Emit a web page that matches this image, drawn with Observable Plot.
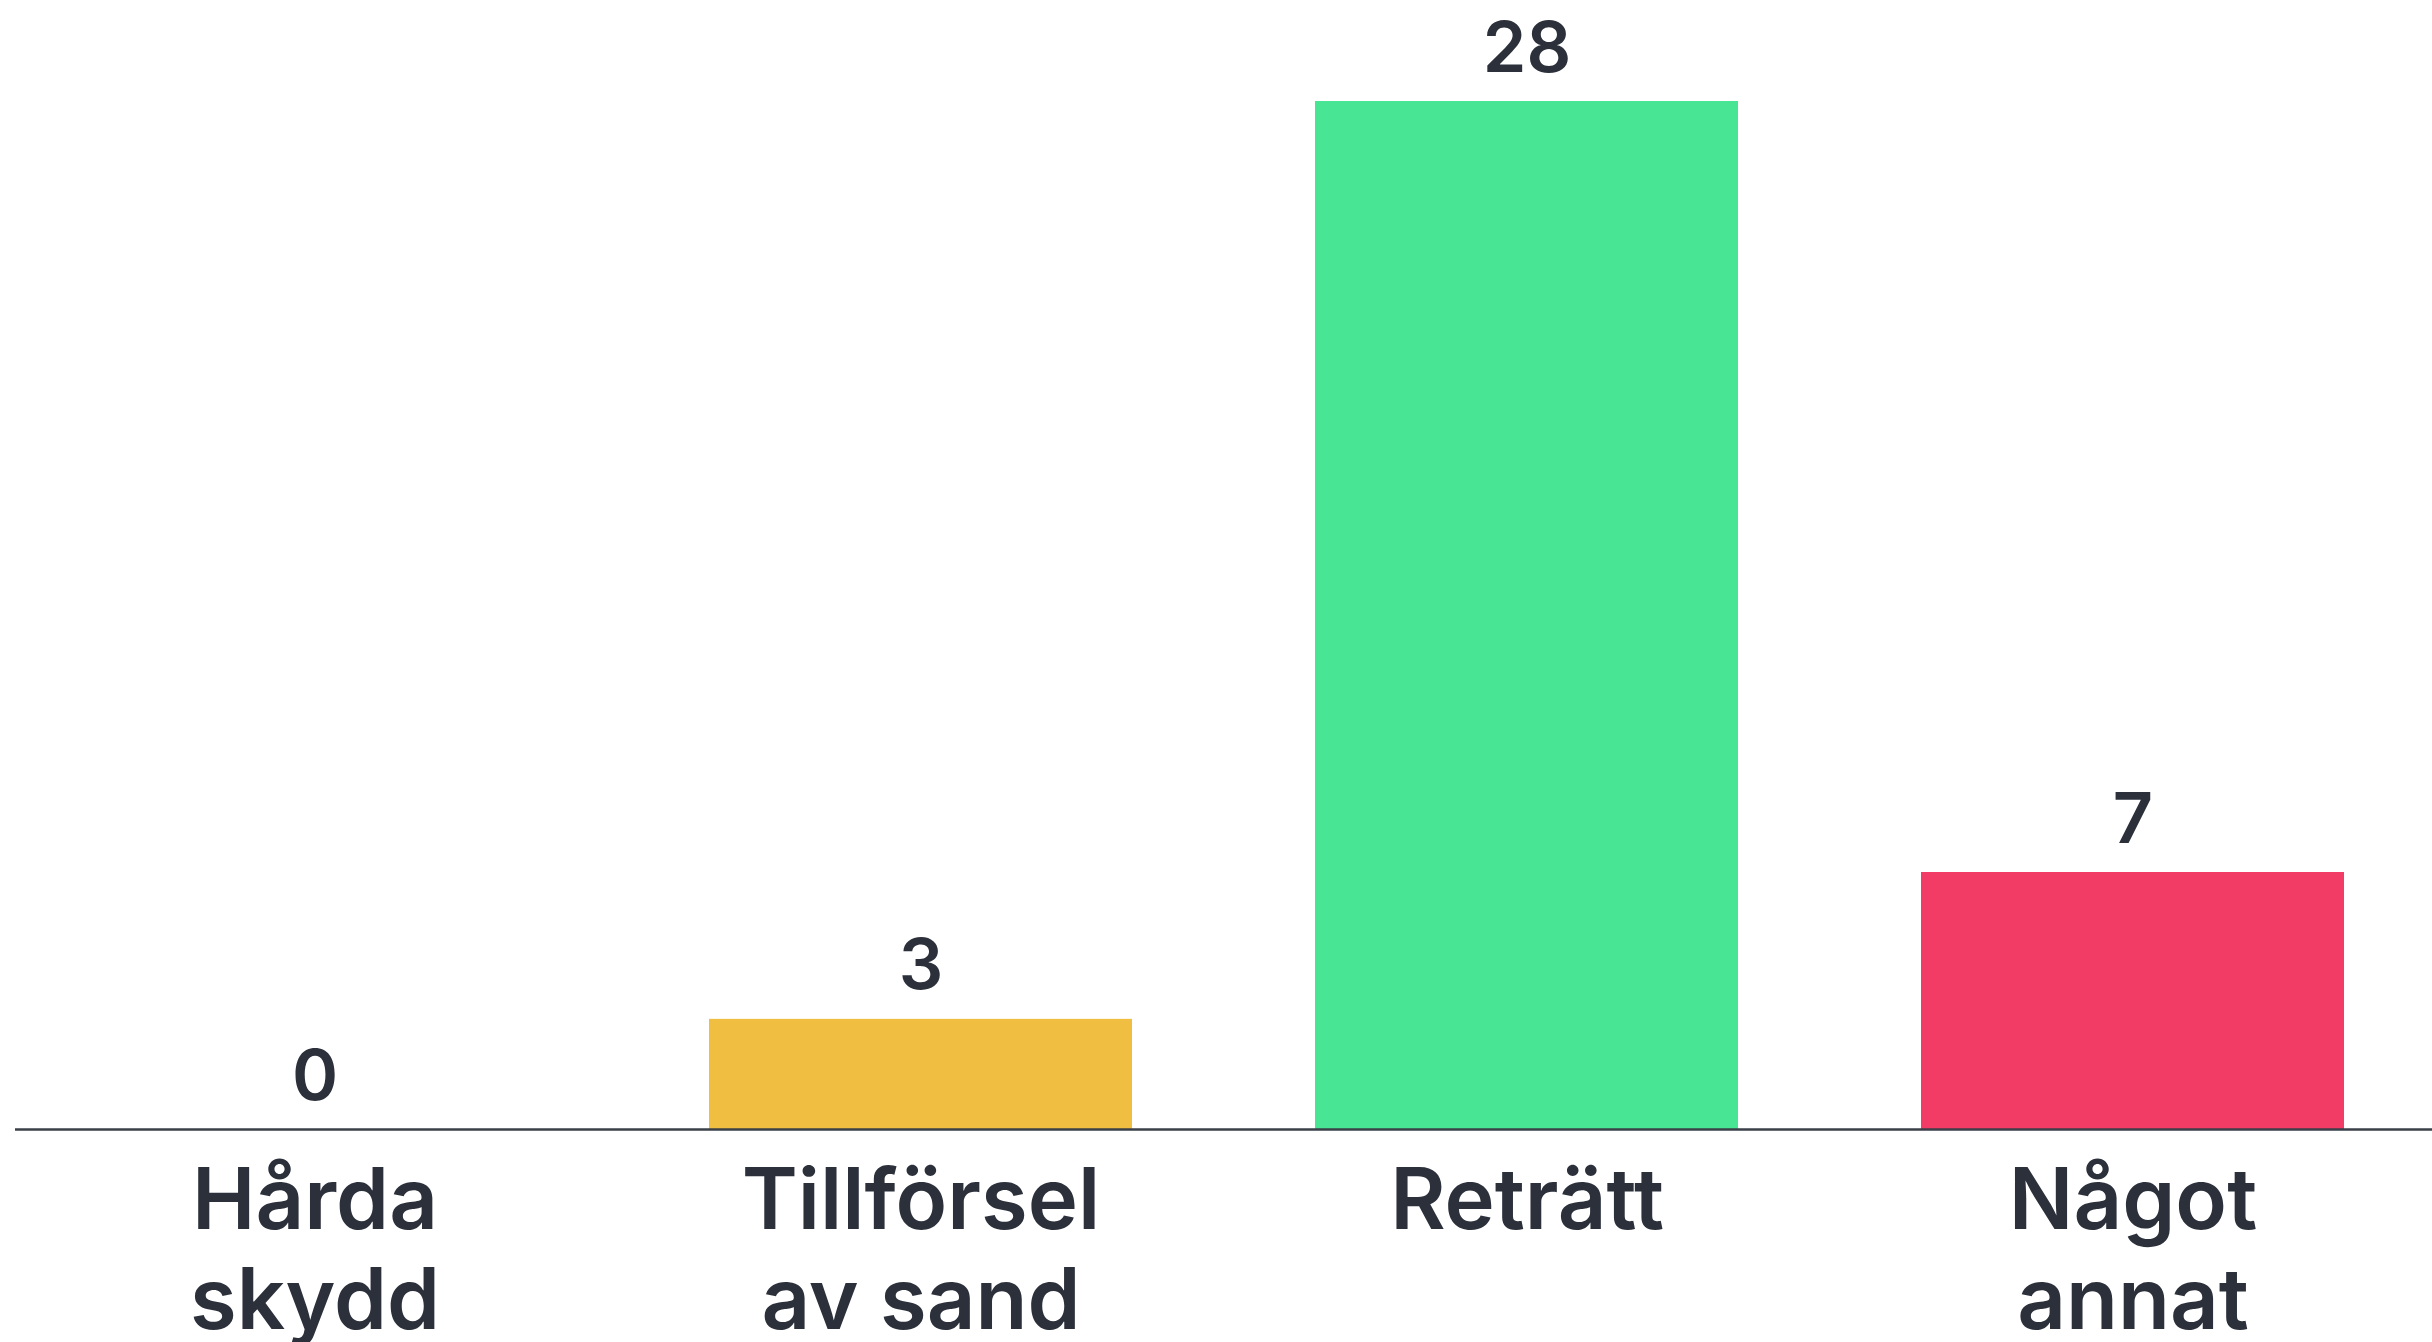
<!DOCTYPE html>
<html>
<head>
<meta charset="utf-8">
<script src="https://cdn.jsdelivr.net/npm/d3@7"></script>
<script src="https://cdn.jsdelivr.net/npm/@observablehq/plot@0.6"></script>
<style>
  html, body { margin: 0; padding: 0; background: #ffffff; }
  #chart { width: 2432px; height: 1342px; }
</style>
</head>
<body>
<div id="chart"></div>
<script>
const categories = ["Hårda\nskydd", "Tillförsel\nav sand", "Reträtt", "Något\nannat"];
const values = [0, 3, 28, 7];
const colors = ["#F0BE41", "#F0BE41", "#48E595", "#F23B65"];

const data = categories.map((c, i) => ({category: c, value: values[i], color: colors[i]}));

const chart = Plot.plot({
  width: 2432,
  height: 1342,
  marginLeft: 15,
  marginRight: 0,
  marginTop: 101,
  marginBottom: 213,
  style: {fontFamily: "Inter, sans-serif", background: "#ffffff", color: "#2b303b"},
  x: {domain: categories, paddingInner: 0.302, paddingOuter: 0.145, label: null},
  y: {domain: [0, 28], axis: null},
  marks: [
    Plot.barY(data, {x: "category", y: "value", fill: "color"}),
    Plot.ruleY([0], {stroke: "#3a3f48", strokeWidth: 2.5}),
    Plot.text(data, {x: "category", y: "value", text: d => String(d.value), lineAnchor: "bottom", dy: -30, fontSize: 70, fontWeight: 600, fill: "#2b303b"}),
    Plot.axisX({tickSize: 0, tickPadding: 29, fontSize: 85, fontWeight: 600, lineHeight: 1.17, fill: "#2b303b", label: null})
  ]
});
document.getElementById("chart").appendChild(chart);
</script>
</body>
</html>
